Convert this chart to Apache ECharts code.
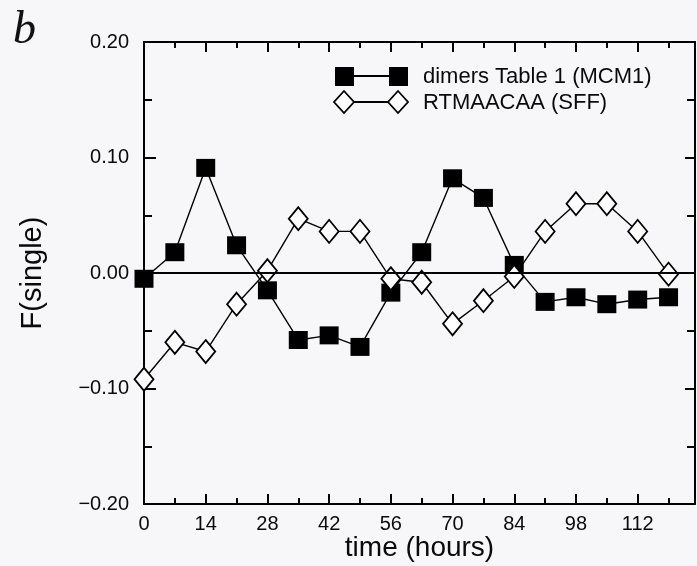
<!DOCTYPE html>
<html>
<head>
<meta charset="utf-8">
<script src="https://cdn.jsdelivr.net/npm/echarts@6/dist/echarts.min.js"></script>
<style>
html,body{margin:0;padding:0;background:#f7f7f9;}
#chart{width:697px;height:566px;}
</style>
</head>
<body>
<div id="chart"></div>
<script>
// Data
const hours = [0, 7, 14, 21, 28, 35, 42, 49, 56, 63, 70, 77, 84, 91, 98, 105, 112, 119];
const dimersMCM1 = [-0.005, 0.018, 0.091, 0.024, -0.015, -0.058, -0.054, -0.064, -0.017, 0.018, 0.082, 0.065, 0.007, -0.025, -0.021, -0.027, -0.023, -0.021];
const rtmaacaaSFF = [-0.092, -0.060, -0.068, -0.027, 0.002, 0.047, 0.036, 0.036, -0.005, -0.008, -0.044, -0.024, -0.003, 0.036, 0.060, 0.060, 0.036, -0.001];
const xTicks = [0, 14, 28, 42, 56, 70, 84, 98, 112];
const yTicks = [-0.2, -0.1, 0, 0.1, 0.2];
const seriesNames = ['dimers Table 1 (MCM1)', 'RTMAACAA (SFF)'];

const FONT = 'Liberation Sans';
const TXT = '#0a0a0a';

const chart = echarts.init(document.getElementById('chart'));

function pairs(xs, ys) { return xs.map((x, i) => [x, ys[i]]); }

function xAx(pos, interval, len, showLine, showLabel) {
  return {
    type: 'value', position: pos, min: 0, max: 125, interval: interval,
    axisLine: { show: showLine, onZero: false, lineStyle: { color: '#000', width: 2 } },
    axisTick: { show: true, inside: true, length: len, lineStyle: { color: '#000', width: 2 } },
    axisLabel: showLabel ? {
      show: true, margin: 10, color: TXT, fontFamily: FONT, fontSize: 20,
      formatter: v => (xTicks.indexOf(v) >= 0 ? String(v) : '')
    } : { show: false },
    splitLine: { show: false }
  };
}

function fmtY(v) {
  const r = Math.round(v * 100) / 100;
  if (yTicks.map(t => Math.round(t * 100) / 100).indexOf(r) < 0) return '';
  const s = Math.abs(r).toFixed(2);
  return r < 0 ? '\u2212' + s : s;
}

const option = {
  backgroundColor: '#f7f7f9',
  animation: false,
  grid: { left: 144, right: 2, top: 42, bottom: 62, containLabel: false, outerBoundsMode: 'none' },
  xAxis: [
    Object.assign(xAx('bottom', 14, 10, true, true), {
      name: 'time (hours)', nameLocation: 'middle', nameGap: 30, nameMoveOverlap: false,
      nameTextStyle: { color: TXT, fontFamily: FONT, fontSize: 28 }
    }),
    xAx('bottom', 7, 6, false, false),
    xAx('top', 14, 10, true, false),
    xAx('top', 7, 6, false, false)
  ],
  yAxis: [
    {
      type: 'value', position: 'left', min: -0.2, max: 0.2, interval: 0.1,
      name: 'F(single)', nameLocation: 'middle', nameGap: 97, nameRotate: 90, nameMoveOverlap: false,
      nameTextStyle: { color: TXT, fontFamily: FONT, fontSize: 29 },
      axisLine: { show: true, onZero: false, lineStyle: { color: '#000', width: 2 } },
      axisTick: { show: true, inside: true, length: 12, lineStyle: { color: '#000', width: 2 } },
      minorTick: { show: true, splitNumber: 2, length: 8, lineStyle: { color: '#000', width: 2 } },
      axisLabel: { show: true, margin: 15, color: TXT, fontFamily: FONT, fontSize: 20, formatter: fmtY },
      splitLine: { show: false }
    },
    {
      type: 'value', position: 'right', min: -0.2, max: 0.2, interval: 0.1,
      axisLine: { show: true, onZero: false, lineStyle: { color: '#000', width: 2 } },
      axisTick: { show: true, inside: true, length: 10, lineStyle: { color: '#000', width: 2 } },
      minorTick: { show: true, splitNumber: 2, length: 8, lineStyle: { color: '#000', width: 2 } },
      axisLabel: { show: false },
      splitLine: { show: false }
    }
  ],
  series: [
    {
      name: seriesNames[0], type: 'line', xAxisIndex: 0, yAxisIndex: 0,
      data: pairs(hours, dimersMCM1),
      symbol: 'rect', symbolSize: [19, 18],
      lineStyle: { color: '#000', width: 1.4 },
      itemStyle: { color: '#000', borderColor: '#000', borderWidth: 0 },
      z: 3,
      markLine: {
        silent: true, symbol: 'none', label: { show: false },
        lineStyle: { color: '#000', width: 1.8, type: 'solid' },
        data: [{ yAxis: 0 }]
      }
    },
    {
      name: seriesNames[1], type: 'line', xAxisIndex: 0, yAxisIndex: 0,
      data: pairs(hours, rtmaacaaSFF),
      symbol: 'diamond', symbolSize: [19, 23],
      lineStyle: { color: '#000', width: 1.4 },
      itemStyle: { color: '#fff', borderColor: '#000', borderWidth: 1.8 },
      z: 4
    }
  ],
  graphic: [
    { type: 'text', left: 13, top: 8, style: { text: 'b', font: 'italic 46px "Liberation Serif"', fill: '#111' } },
    // legend row 1
    { type: 'line', shape: { x1: 344, y1: 76, x2: 398, y2: 76 }, style: { stroke: '#000', lineWidth: 2 }, z: 10 },
    { type: 'rect', shape: { x: 335, y: 67, width: 19, height: 19 }, style: { fill: '#000' }, z: 11 },
    { type: 'rect', shape: { x: 389, y: 67, width: 19, height: 19 }, style: { fill: '#000' }, z: 11 },
    { type: 'text', x: 423, y: 77, style: { text: seriesNames[0], fill: TXT, font: '22px "Liberation Sans"', verticalAlign: 'middle' }, z: 11 },
    // legend row 2
    { type: 'line', shape: { x1: 344, y1: 102, x2: 398, y2: 102 }, style: { stroke: '#000', lineWidth: 2 }, z: 10 },
    { type: 'polygon', shape: { points: [[344, 91], [354, 102], [344, 113], [334, 102]] }, style: { fill: '#fff', stroke: '#000', lineWidth: 1.8 }, z: 11 },
    { type: 'polygon', shape: { points: [[398, 91], [408, 102], [398, 113], [388, 102]] }, style: { fill: '#fff', stroke: '#000', lineWidth: 1.8 }, z: 11 },
    { type: 'text', x: 423, y: 103, style: { text: seriesNames[1], fill: TXT, font: '22px "Liberation Sans"', verticalAlign: 'middle' }, z: 11 }
  ]
};

chart.setOption(option);
</script>
</body>
</html>
